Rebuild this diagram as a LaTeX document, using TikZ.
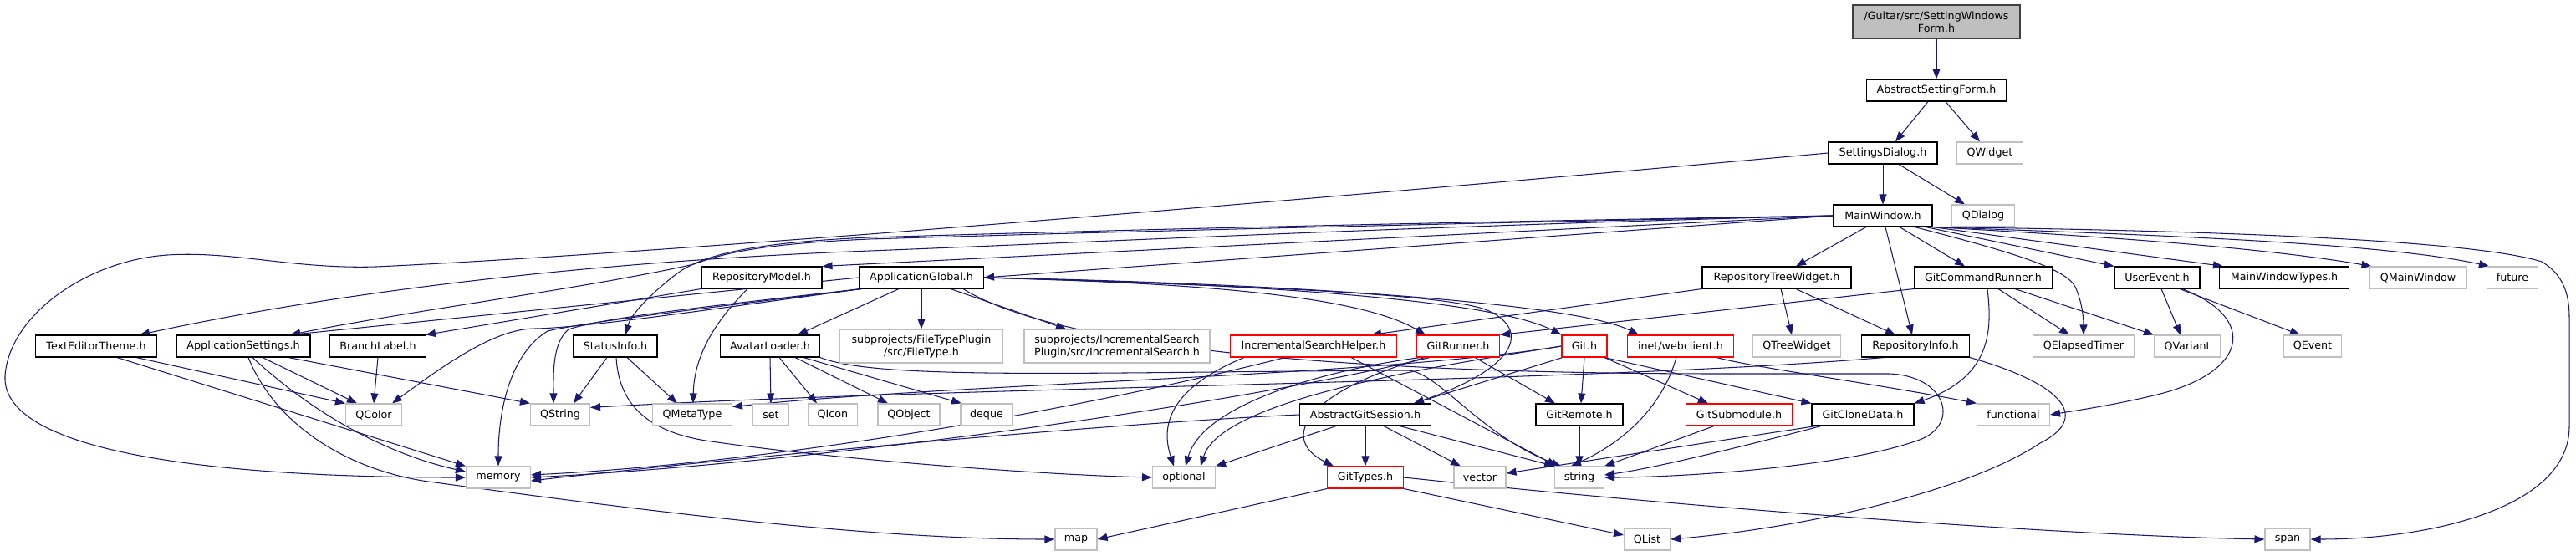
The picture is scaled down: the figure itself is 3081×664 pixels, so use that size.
\documentclass[tikz,border=0pt]{standalone}
\usepackage{fontspec}
\setmainfont{DejaVu Sans}
\usetikzlibrary{arrows.meta}
\definecolor{edgec}{HTML}{191970}
\definecolor{extc}{HTML}{BFBFBF}
\definecolor{rootfill}{HTML}{BFBFBF}
\definecolor{rootdraw}{HTML}{404040}
\newcommand{\nodefont}{\fontsize{12.7}{15}\selectfont}
\pgfdeclarelayer{bg}
\pgfdeclarelayer{paper}
\pgfsetlayers{paper,bg,main}
\begin{document}
\begin{tikzpicture}[x=1pt,y=-1pt]
\tikzset{
  nb/.style={rectangle, line width=1.1pt, inner xsep=2pt, inner ysep=0pt, minimum height=26pt, font=\nodefont, text=black, fill=white},
  doc/.style={nb, draw=black},
  ext/.style={nb, draw=extc},
  trc/.style={nb, draw=red},
  e/.style={draw=edgec, line width=1.05pt, -{Triangle[length=12pt,width=9pt]}}
}
\begin{pgfonlayer}{paper}
\fill[white] (0,0) rectangle (3081,664);
\end{pgfonlayer}
\useasboundingbox (0,0) rectangle (3081,664);

% row A-D
\node[doc, fill=rootfill, draw=rootdraw, minimum width=200pt, minimum height=40pt, align=center] (root) at (2316,26) {/Guitar/src/SettingWindows\\Form.h};
\node[doc, minimum width=167pt] (asf) at (2316,108) {AbstractSettingForm.h};
\node[doc, minimum width=130pt] (sd) at (2252,183) {SettingsDialog.h};
\node[ext, minimum width=79pt] (qwidget) at (2380,183) {QWidget};
\node[doc, minimum width=118pt] (mw) at (2252,258) {MainWindow.h};
\node[ext, minimum width=75pt] (qdialog) at (2372,258) {QDialog};
% row E
\node[doc, minimum width=144pt] (rm) at (911,332) {RepositoryModel.h};
\node[doc, minimum width=149pt] (ag) at (1102,332) {ApplicationGlobal.h};
\node[doc, minimum width=178pt] (rtw) at (2125,332) {RepositoryTreeWidget.h};
\node[doc, minimum width=165pt] (gcr) at (2372,332) {GitCommandRunner.h};
\node[doc, minimum width=102pt] (ue) at (2580,332) {UserEvent.h};
\node[doc, minimum width=155pt] (mwt) at (2732,332) {MainWindowTypes.h};
\node[ext, minimum width=116pt] (qmw) at (2892,332) {QMainWindow};
\node[ext, minimum width=61pt] (future) at (3005,332) {future};
% row F
\node[doc, minimum width=145pt] (tet) at (115,414) {TextEditorTheme.h};
\node[doc, minimum width=160pt] (as) at (291,414) {ApplicationSettings.h};
\node[doc, minimum width=115pt] (bl) at (452,414) {BranchLabel.h};
\node[doc, minimum width=100pt] (si) at (736,414) {StatusInfo.h};
\node[doc, minimum width=119pt] (al) at (921,414) {AvatarLoader.h};
\node[ext, minimum width=195pt, minimum height=40pt, align=center] (ft) at (1102,414) {subprojects/FileTypePlugin\\/src/FileType.h};
\node[ext, minimum width=222pt, minimum height=40pt, align=center] (is) at (1336,414) {subprojects/IncrementalSearch\\Plugin/src/IncrementalSearch.h};
\node[trc, minimum width=199pt] (ish) at (1571,414) {IncrementalSearchHelper.h};
\node[trc, minimum width=99pt] (gr) at (1744,414) {GitRunner.h};
\node[trc, minimum width=54pt] (git) at (1895,414) {Git.h};
\node[trc, minimum width=127pt] (wc) at (2010,414) {inet/webclient.h};
\node[ext, minimum width=105pt] (qtw) at (2149,414) {QTreeWidget};
\node[doc, minimum width=129pt] (ri) at (2291,414) {RepositoryInfo.h};
\node[ext, minimum width=121pt] (qet) at (2492,414) {QElapsedTimer};
\node[ext, minimum width=79pt] (qvar) at (2616,414) {QVariant};
\node[ext, minimum width=69pt] (qevent) at (2766,414) {QEvent};
% row G
\node[ext, minimum width=67pt] (qcolor) at (447,496) {QColor};
\node[ext, minimum width=71pt] (qstring) at (670,496) {QString};
\node[ext, minimum width=95pt] (qmeta) at (828,496) {QMetaType};
\node[ext, minimum width=43pt] (set) at (922,496) {set};
\node[ext, minimum width=59pt] (qicon) at (996,496) {QIcon};
\node[ext, minimum width=74pt] (qobject) at (1087,496) {QObject};
\node[ext, minimum width=62pt] (deque) at (1180,496) {deque};
\node[doc, minimum width=157pt] (ags) at (1633,496) {AbstractGitSession.h};
\node[doc, minimum width=104pt] (grem) at (1889,496) {GitRemote.h};
\node[trc, minimum width=127pt] (gsm) at (2080,496) {GitSubmodule.h};
\node[doc, minimum width=122pt] (gcd) at (2228,496) {GitCloneData.h};
\node[ext, minimum width=87pt] (functional) at (2408,496) {functional};
% row H
\node[ext, minimum width=77pt] (memory) at (596,571) {memory};
\node[ext, minimum width=75pt] (optional) at (1416,571) {optional};
\node[trc, minimum width=91pt] (gt) at (1633,571) {GitTypes.h};
\node[ext, minimum width=62pt] (vector) at (1770,571) {vector};
\node[ext, minimum width=59pt] (string) at (1889,571) {string};
% row I
\node[ext, minimum width=50pt] (map) at (1287,645) {map};
\node[ext, minimum width=55pt] (qlist) at (1970,645) {QList};
\node[ext, minimum width=54pt] (span) at (2736,645) {span};

\begin{pgfonlayer}{bg}
% top
\draw[e] (root) -- (asf);
\draw[e] ([xshift=-10pt]asf.south) -- ([xshift=15pt]sd.north);
\draw[e] ([xshift=11pt]asf.south) -- ([xshift=-12pt]qwidget.north);
\draw[e] (sd) -- (mw);
\draw[e] ([xshift=19pt]sd.south) -- ([xshift=-22pt]qdialog.north);
\draw[e] (sd.west) .. controls (1800,218) and (1400,252) .. (1040,280) .. controls (800,298) and (600,312) .. (450,319) .. controls (350,322) and (280,300) .. (200,305) .. controls (100,312) and (10,380) .. (6,450) .. controls (2,540) and (250,571) .. (memory.west);
% MainWindow
\draw[e] ([xshift=-20pt]mw.south) -- ([xshift=23pt]rtw.north);
\draw[e] ([xshift=20pt]mw.south) -- ([xshift=-22pt]gcr.north);
\draw[e] ([xshift=3pt]mw.south) -- ([xshift=-4pt]ri.north);
\draw[e] ([xshift=51pt]mw.south) -- (ue.north west);
\draw[e] (mw.south east) -- ([xshift=5pt]mwt.north west);
\draw[e] (mw.south east) .. controls (2500,282) and (2700,295) .. ([xshift=3pt]qmw.north west);
\draw[e] (mw.south east) .. controls (2550,280) and (2850,290) .. ([xshift=3pt]future.north west);
\draw[e] (mw.south east) .. controls (2600,275) and (2950,285) .. (3040,313) .. controls (3065,328) and (3073,350) .. (3073,380) -- (3073,510) .. controls (3073,610) and (2900,645) .. (span.east);
\draw[e] ([xshift=38pt]mw.south) .. controls (2400,300) and (2470,320) .. (2482,343) .. controls (2490,360) and (2492,380) .. (qet.north);
\draw[e] (mw.west) -- (ag.east);
\draw[e] (mw.west) -- (rm.north east);
\draw[e] (mw.west) .. controls (1700,270) and (1300,290) .. (1040,300) .. controls (700,313) and (400,350) .. ([xshift=52pt]tet.north);
\draw[e] (mw.west) .. controls (1700,268) and (1300,278) .. (1040,286) .. controls (900,292) and (860,305) .. (830,316) .. controls (700,345) and (500,370) .. ([xshift=56pt]as.north);
\draw[e] (mw.west) .. controls (1700,266) and (1300,276) .. (1040,284) .. controls (900,290) and (840,305) .. (810,327) .. controls (780,350) and (755,375) .. ([xshift=12pt]si.north);
% ApplicationGlobal
\draw[e] (ag.west) -- ([xshift=56pt]as.north);
\draw[e] ([xshift=-27pt]ag.south) -- ([xshift=33pt]al.north);
\draw[e] (ag.south) -- (ft.north);
\draw[e] ([xshift=35pt]ag.south) -- ([xshift=-61pt]is.north);
\draw[e] ([xshift=-72pt]ag.south) .. controls (850,370) and (700,392) .. (640,393) .. controls (595,393) and (540,430) .. ([xshift=22pt]qcolor.north);
\draw[e] ([xshift=-72pt]ag.south) .. controls (850,368) and (700,385) .. (655,396) .. controls (615,420) and (596,480) .. (memory.north);
\draw[e] ([xshift=-72pt]ag.south) .. controls (850,366) and (720,380) .. (680,394) .. controls (660,410) and (662,450) .. ([xshift=-8pt]qstring.north);
\draw[e] (ag.east) .. controls (1400,338) and (1620,350) .. ([xshift=-39pt]gr.north);
\draw[e] (ag.east) .. controls (1450,338) and (1780,355) .. (git.north west);
\draw[e] (ag.east) .. controls (1500,338) and (1880,360) .. ([xshift=-50pt]wc.north);
\draw[e] (ag.east) .. controls (1500,342) and (1740,352) .. (1781,372) .. controls (1830,395) and (1815,440) .. ([xshift=58pt]ags.north);
\draw[e] ([xshift=50pt]ag.south) .. controls (1300,437) and (1800,447) .. (2060,447) -- (2260,447) .. controls (2330,450) and (2345,510) .. (2293,527) .. controls (2200,560) and (2000,571) .. (string.east);
% RepositoryModel
\draw[e] (rm.south west) -- ([xshift=57pt]bl.north);
\draw[e] ([xshift=-17pt]rm.south) .. controls (850,390) and (830,430) .. ([xshift=1pt]qmeta.north);
% TextEditorTheme, ApplicationSettings, BranchLabel
\draw[e] ([xshift=48pt]tet.south) -- (qcolor.north west);
\draw[e] ([xshift=25pt]tet.south) -- (memory.north west);
\draw[e] ([xshift=23pt]as.south) -- ([xshift=-20pt]qcolor.north);
\draw[e] ([xshift=11pt]as.south) .. controls (380,500) and (470,545) .. ([yshift=7pt]memory.west);
\draw[e] ([xshift=54pt]as.south) -- (qstring.north west);
\draw[e] ([xshift=6pt]as.south) .. controls (330,510) and (420,565) .. (520,577) .. controls (800,615) and (1050,645) .. (map.west);
\draw[e] (bl.south) -- (qcolor.north);
% StatusInfo
\draw[e] ([xshift=-10pt]si.south) -- ([xshift=16pt]qstring.north);
\draw[e] ([xshift=14pt]si.south) -- ([xshift=-18pt]qmeta.north);
\draw[e] ([xshift=1pt]si.south) .. controls (740,480) and (770,515) .. (844,527) .. controls (1000,550) and (1250,568) .. (optional.west);
% AvatarLoader
\draw[e] (al.south) -- (set.north);
\draw[e] ([xshift=11pt]al.south) -- ([xshift=-19pt]qicon.north);
\draw[e] ([xshift=30pt]al.south) -- ([xshift=-25pt]qobject.north);
\draw[e] ([xshift=40pt]al.south) -- ([xshift=-30pt]deque.north);
\draw[e] (al.south east) .. controls (1050,455) and (1300,445) .. (1684,443) .. controls (1720,445) and (1770,520) .. ([xshift=-22pt]string.north);
% IncrementalSearchHelper
\draw[e] ([xshift=-83pt]ish.south) .. controls (1410,460) and (1385,500) .. ([xshift=-12pt]optional.north);
\draw[e] ([xshift=-34pt]ish.south) .. controls (1250,500) and (900,555) .. ([yshift=3pt]memory.east);
\draw[e] ([xshift=45pt]ish.south) -- ([xshift=-27pt]string.north);
% GitRunner
\draw[e] ([xshift=20pt]gr.south) -- ([xshift=-29pt]grem.north);
\draw[e] ([xshift=-34pt]gr.south) .. controls (1450,490) and (950,555) .. (memory.east);
\draw[e] ([xshift=-40pt]gr.south) .. controls (1560,470) and (1530,525) .. ([xshift=-38pt]gt.north);
\draw[e] ([xshift=-45pt]gr.south) .. controls (1600,440) and (1440,480) .. ([xshift=2pt]optional.north);
% Git
\draw[e] (git.south) -- ([xshift=2pt]grem.north);
\draw[e] ([xshift=24pt]git.south) -- ([xshift=-37pt]gsm.north);
\draw[e] ([xshift=24pt]git.south) -- (gcd.north west);
\draw[e] ([xshift=-26pt]git.south) -- ([xshift=58pt]ags.north);
\draw[e] (git.west) .. controls (1650,450) and (1150,458) .. ([yshift=-4pt]qmeta.north east);
\draw[e] (git.west) .. controls (1700,440) and (1460,480) .. ([xshift=20pt]optional.north);
% webclient
\draw[e] ([xshift=-5pt]wc.south) .. controls (1990,480) and (1950,525) .. ([xshift=-10pt]string.north);
\draw[e] ([xshift=43pt]wc.south) .. controls (2100,440) and (2250,460) .. (functional.north west);
% RepositoryInfo
\draw[e] ([xshift=-38pt]ri.south) .. controls (1900,458) and (1150,462) .. ([yshift=-5pt]qstring.north east);
\draw[e] (ri.south east) .. controls (2470,460) and (2500,500) .. (2440,530) .. controls (2350,590) and (2150,632) .. (qlist.east);
% AbstractGitSession
\draw[e] (ags) -- (gt);
\draw[e] ([xshift=22pt]ags.south) -- ([xshift=-23pt]vector.north);
\draw[e] ([xshift=41pt]ags.south) -- (string.north west);
\draw[e] (ags.west) .. controls (1350,505) and (900,545) .. ([yshift=-4pt]memory.east);
\draw[e] ([xshift=-35pt]ags.south) -- (optional.north east);
% GitRemote, GitSubmodule, GitCloneData
\draw[e] (grem) -- (string);
\draw[e] ([xshift=-30pt]gsm.south) -- (string.north east);
\draw[e] ([xshift=-50pt]gcd.south) .. controls (2100,530) and (1980,560) .. ([yshift=3pt]string.east);
\draw[e] ([xshift=-56pt]gcd.south) -- ([yshift=5pt]vector.east);
% GitTypes
\draw[e] (gt.south west) -- (map.east);
\draw[e] (gt.south east) -- ([yshift=5pt]qlist.west);
\draw[e] (gt.east) .. controls (2000,605) and (2450,640) .. (span.west);
% GitCommandRunner
\draw[e] (gcr.south west) -- (gr.north east);
\draw[e] ([xshift=18pt]gcr.south) -- ([xshift=-17pt]qet.north);
\draw[e] ([xshift=38pt]gcr.south) -- (qvar.north west);
\draw[e] ([xshift=5pt]gcr.south) .. controls (2382,390) and (2385,450) .. (gcd.north east);
% UserEvent
\draw[e] ([xshift=5pt]ue.south) -- ([xshift=-8pt]qvar.north);
\draw[e] ([xshift=27pt]ue.south) -- ([xshift=-15pt]qevent.north);
\draw[e] ([xshift=30pt]ue.south) .. controls (2700,380) and (2690,445) .. (2580,472) .. controls (2530,484) and (2490,490) .. (functional.east);
% RepositoryTreeWidget
\draw[e] ([xshift=5pt]rtw.south) -- ([xshift=-6pt]qtw.north);
\draw[e] ([xshift=23pt]rtw.south) -- ([xshift=-24pt]ri.north);
\draw[e] (rtw.south west) -- ([xshift=69pt]ish.north);
\end{pgfonlayer}
\end{tikzpicture}
\end{document}
